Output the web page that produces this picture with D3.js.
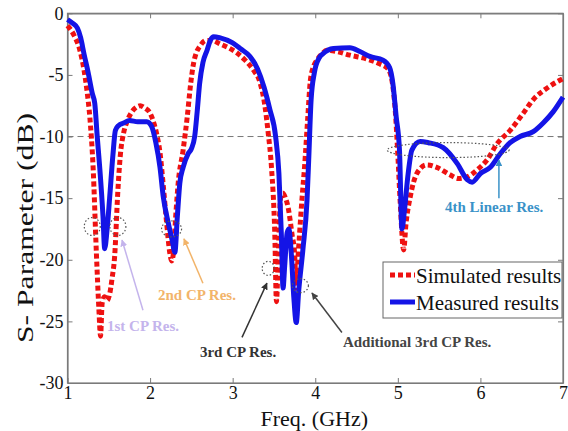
<!DOCTYPE html>
<html><head><meta charset="utf-8">
<script src="https://cdn.jsdelivr.net/npm/d3@7"></script>
<style>
html,body{margin:0;padding:0;background:#fff;}
svg{display:block;font-family:"Liberation Serif","Times New Roman",serif;}
</style></head>
<body>
<svg id="chart" width="568" height="431"></svg>
<script>
// ---- data ----
const simFreq = [1.00,1.08,1.15,1.20,1.24,1.27,1.31,1.35,1.38,1.40,1.42,1.45,1.48,1.51,1.54,1.57,1.61,1.64,1.68,1.72,1.78,1.84,1.88,1.94,2.00,2.05,2.08,2.12,2.16,2.20,2.24,2.26,2.28,2.31,2.34,2.40,2.45,2.49,2.52,2.56,2.60,2.68,2.75,2.85,2.95,3.05,3.15,3.25,3.33,3.39,3.43,3.47,3.51,3.53,3.555,3.58,3.61,3.64,3.67,3.72,3.75,3.77,3.79,3.81,3.84,3.87,3.91,3.94,3.98,4.02,4.08,4.14,4.26,4.42,4.62,4.78,4.88,4.93,4.97,5.00,5.03,5.07,5.10,5.15,5.23,5.35,5.47,5.63,5.73,5.83,5.96,6.08,6.20,6.36,6.52,6.64,6.80,7.00];
const simDB = [-1.0,-1.8,-3.0,-4.6,-6.5,-8.4,-12.5,-19.5,-24.0,-26.2,-23.5,-23.0,-23.3,-22.8,-21.5,-19.8,-14.4,-11.5,-9.7,-8.8,-8.0,-7.6,-7.5,-7.7,-8.1,-9.0,-9.8,-11.3,-14.0,-17.0,-19.5,-20.1,-19.6,-16.5,-13.8,-11.1,-8.4,-5.8,-4.3,-3.2,-2.7,-2.2,-2.2,-2.5,-2.8,-3.2,-3.8,-4.6,-5.6,-7.5,-9.7,-12.5,-17.9,-23.4,-19.0,-15.0,-14.6,-15.0,-15.7,-18.0,-19.5,-22.3,-20.0,-17.9,-15.0,-12.5,-8.4,-5.5,-4.3,-3.8,-3.3,-3.0,-3.1,-3.4,-3.7,-4.1,-4.5,-5.5,-8.0,-11.5,-15.5,-19.2,-17.0,-14.9,-13.0,-12.3,-12.5,-13.1,-13.4,-13.3,-12.7,-11.9,-10.6,-9.5,-8.1,-7.0,-6.1,-5.3];
const measFreq = [1.00,1.06,1.12,1.16,1.20,1.25,1.30,1.33,1.36,1.39,1.43,1.45,1.48,1.51,1.55,1.58,1.62,1.68,1.75,1.85,1.96,2.02,2.07,2.12,2.16,2.22,2.27,2.30,2.33,2.36,2.40,2.46,2.50,2.54,2.57,2.60,2.64,2.69,2.73,2.77,2.85,3.00,3.10,3.21,3.30,3.38,3.45,3.52,3.56,3.59,3.61,3.63,3.66,3.68,3.71,3.74,3.77,3.80,3.85,3.90,3.92,3.95,3.99,4.05,4.09,4.22,4.42,4.54,4.66,4.82,4.90,4.94,4.98,5.02,5.05,5.08,5.12,5.17,5.27,5.37,5.55,5.72,5.84,5.90,6.00,6.12,6.24,6.36,6.48,6.64,6.76,6.88,7.00];
const measDB = [-0.5,-0.8,-1.2,-2.0,-3.3,-4.8,-6.5,-7.3,-10.0,-12.5,-16.5,-19.1,-17.5,-15.0,-11.5,-9.5,-9.1,-8.9,-8.7,-8.8,-8.8,-9.2,-10.5,-12.5,-14.9,-17.0,-18.5,-19.4,-16.5,-13.8,-12.5,-11.4,-11.0,-10.0,-8.0,-5.7,-4.0,-3.0,-2.2,-1.9,-2.0,-2.4,-2.9,-3.5,-4.5,-6.0,-7.8,-10.0,-13.0,-18.0,-22.3,-20.5,-17.8,-17.5,-19.5,-23.0,-25.1,-22.5,-19.2,-15.2,-12.0,-7.0,-4.8,-3.6,-3.3,-2.85,-2.8,-3.1,-3.5,-3.8,-4.4,-5.7,-8.4,-11.1,-17.5,-16.0,-13.3,-11.1,-10.4,-10.5,-10.9,-12.2,-13.5,-13.7,-13.0,-12.5,-11.4,-10.5,-10.0,-9.6,-8.9,-8.0,-6.8];
const xTicks = [1,2,3,4,5,6,7];
const yTicks = [0,-5,-10,-15,-20,-25,-30];
const refLevel = [-10];
const seriesNames = ["Simulated results","Measured results"];
// annotation anchors in data units: [f, dB]
const circleCenters = [[1.30,-17.3],[1.61,-17.3],[2.26,-17.5],[3.43,-20.7],[3.82,-22.1],[5.61,-11.1]];
const annoLabels = ["1st CP Res.","2nd CP Res.","3rd CP Res.","Additional 3rd CP Res.","4th Linear Res."];
const annoTextPos = [[1.478,-25.8],[2.096,-23.3],[2.604,-27.9],[4.335,-27.1],[5.57,-16.15]];
const annoArrowFrom = [[1.914,-24.1],[2.640,-21.9],[3.113,-26.3],[4.323,-25.9],[6.224,-15.0]];
const annoArrowTo = [[1.660,-18.4],[2.410,-18.3],[3.415,-21.9],[3.960,-22.7],[6.224,-11.9]];

// ---- styles / layout ----
const circleR = [[8,9],[8,9],[10,8],[6,7],[8,7],[61,7.5]];
const annoColors = ["#c4b4ec","#f2b46a","#333333","#444444","#3a92c8"];
const L = 67.5, R = 563, T = 13.3, B = 383;
const axisColor = "#7a7a7a";
const fmt = d => String(d);

const svg = d3.select("#chart");
const x = d3.scaleLinear().domain([1,7]).range([L,R]);
const y = d3.scaleLinear().domain([0,-30]).range([T,B]);

// defs: arrowheads
const defs = svg.append("defs");
annoColors.forEach((c,i)=>{
  defs.append("marker").attr("id","ah"+i).attr("viewBox","0 0 10 10")
    .attr("refX",9).attr("refY",5).attr("markerWidth",7).attr("markerHeight",7)
    .attr("orient","auto").attr("markerUnits","userSpaceOnUse")
    .append("path").attr("d","M0,0 L10,5 L0,10 Z").attr("fill",c);
});

// axes box
const gAx = svg.append("g");
gAx.append("rect").attr("x",L).attr("y",T).attr("width",R-L).attr("height",B-T)
  .attr("fill","none").attr("stroke",axisColor).attr("stroke-width",1.2);

const axB = d3.axisBottom(x).tickValues(xTicks).tickSizeInner(-5).tickSizeOuter(0).tickPadding(3).tickFormat(fmt);
const axT = d3.axisTop(x).tickValues(xTicks).tickSizeInner(-5).tickSizeOuter(0).tickFormat("");
const axLft = d3.axisLeft(y).tickValues(yTicks).tickSizeInner(-5).tickSizeOuter(0).tickPadding(4).tickFormat(fmt);
const axRt = d3.axisRight(y).tickValues(yTicks).tickSizeInner(-5).tickSizeOuter(0).tickFormat("");

function styleAxis(g){
  g.select(".domain").attr("stroke",axisColor).attr("stroke-width",1.2);
  g.selectAll(".tick line").attr("stroke",axisColor);
  g.selectAll(".tick text").attr("fill","#111").style("font-size","18px")
    .style("font-family",'"Liberation Serif","Times New Roman",serif');
}
gAx.append("g").attr("transform",`translate(0,${B})`).call(axB).call(styleAxis);
gAx.append("g").attr("transform",`translate(0,${T})`).call(axT).call(styleAxis);
gAx.append("g").attr("transform",`translate(${L},0)`).call(axLft).call(styleAxis);
gAx.append("g").attr("transform",`translate(${R},0)`).call(axRt).call(styleAxis);

// -10 dB reference
svg.selectAll(".ref").data(refLevel).join("line").attr("class","ref")
  .attr("x1",x(1)).attr("x2",x(7)).attr("y1",d=>y(d)).attr("y2",d=>y(d))
  .attr("stroke","#777").attr("stroke-width",1).attr("stroke-dasharray","6,4");

// curves
const line = d3.line().x(d=>x(d[0])).y(d=>y(d[1])).curve(d3.curveMonotoneX);
const simData = simFreq.map((f,i)=>[f,simDB[i]]);
const measData = measFreq.map((f,i)=>[f,measDB[i]]);
svg.append("path").datum(simData).attr("d",line).attr("fill","none")
  .attr("stroke","#ee1111").attr("stroke-width",5).attr("stroke-dasharray","5,3");
svg.append("path").datum(measData).attr("d",line).attr("fill","none")
  .attr("stroke","#1414e6").attr("stroke-width",5).attr("stroke-linejoin","round");

// dotted circles
svg.selectAll(".circ").data(circleCenters).join("ellipse").attr("class","circ")
  .attr("cx",d=>x(d[0])).attr("cy",d=>y(d[1]))
  .attr("rx",(d,i)=>circleR[i][0]).attr("ry",(d,i)=>circleR[i][1])
  .attr("fill","none").attr("stroke","#555").attr("stroke-width",1.2).attr("stroke-dasharray","1.5,2");

// arrows + labels
annoLabels.forEach((lab,i)=>{
  svg.append("line")
    .attr("x1",x(annoArrowFrom[i][0])).attr("y1",y(annoArrowFrom[i][1]))
    .attr("x2",x(annoArrowTo[i][0])).attr("y2",y(annoArrowTo[i][1]))
    .attr("stroke",annoColors[i]).attr("stroke-width",1.5).attr("marker-end",`url(#ah${i})`);
  svg.append("text").attr("x",x(annoTextPos[i][0])).attr("y",y(annoTextPos[i][1]))
    .attr("fill",annoColors[i]).attr("font-weight","bold").style("font-size","15px").text(lab);
});

// axis titles
svg.append("text").attr("x",(L+R)/2-1).attr("y",426).attr("text-anchor","middle")
  .style("font-size","22px").attr("fill","#111").text("Freq. (GHz)");
svg.append("text").attr("transform","translate(33,228) rotate(-90)").attr("text-anchor","middle")
  .style("font-size","24px").attr("fill","#111")
  .attr("textLength",230).attr("lengthAdjust","spacingAndGlyphs").text("S- Parameter (dB)");

// legend
const lg = svg.append("g");
lg.append("rect").attr("x",383).attr("y",262).attr("width",179).attr("height",56)
  .attr("fill","#fff").attr("stroke","#666").attr("stroke-width",1);
const legStyles = [{c:"#ee1111",da:"5,3"},{c:"#1414e6",da:null}];
seriesNames.forEach((n,i)=>{
  const yy = 275 + i*27;
  lg.append("line").attr("x1",390).attr("x2",415).attr("y1",yy).attr("y2",yy)
    .attr("stroke",legStyles[i].c).attr("stroke-width",5).attr("stroke-dasharray",legStyles[i].da);
  lg.append("text").attr("x",416).attr("y",yy+8).style("font-size","21px").attr("fill","#111").text(n);
});
</script>
</body></html>
